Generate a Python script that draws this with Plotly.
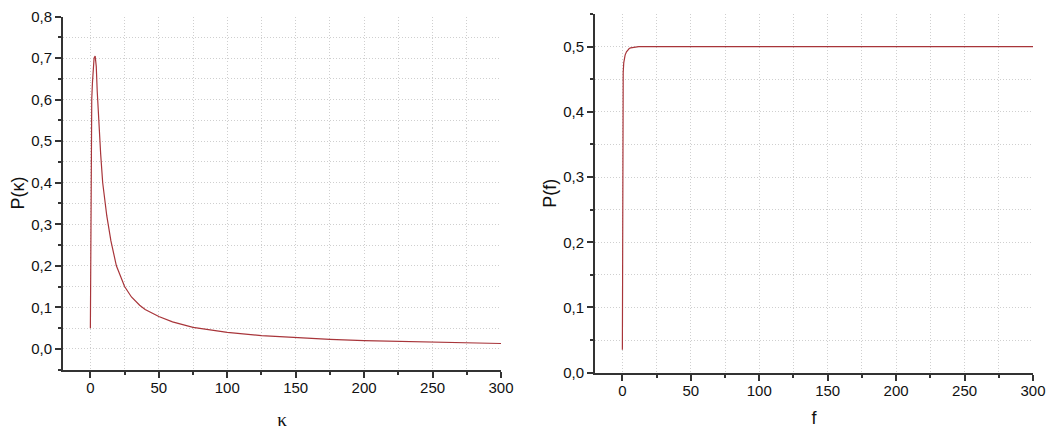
import plotly.graph_objects as go

# Left panel: P(kappa)
kappa = [0, 0.3, 0.6, 1, 1.5, 2, 2.7, 3.5, 4.3, 5, 6, 7.5, 9, 10.5, 12, 15, 19, 25, 30, 36, 40,
         50, 60, 75, 90, 100, 125, 150, 175, 200, 225, 250, 275, 300]
p_kappa = [0.05, 0.30, 0.55, 0.60, 0.64, 0.68, 0.70, 0.705, 0.68, 0.62, 0.55, 0.47, 0.40, 0.36,
           0.32, 0.26, 0.20, 0.15, 0.125, 0.105, 0.095, 0.078, 0.065, 0.052, 0.044, 0.040,
           0.032, 0.027, 0.023, 0.020, 0.018, 0.016, 0.0145, 0.013]

# Right panel: P(f)
f_vals = [0, 0.2, 0.4, 0.6, 1, 1.5, 2, 3, 4, 5, 6, 8, 10, 12, 50, 100, 150, 200, 250, 300]
p_f = [0.035, 0.25, 0.43, 0.46, 0.475, 0.482, 0.487, 0.492, 0.495, 0.497, 0.498, 0.499, 0.4995,
       0.5, 0.5, 0.5, 0.5, 0.5, 0.5, 0.5]

LINE = "#a8353a"
AXC = "#333333"
GRID = "#cfcfcf"
DOT = "1px,2px"
FONT = "Liberation Sans, Arial, sans-serif"

fig = go.Figure()
fig.add_trace(go.Scatter(x=kappa, y=p_kappa, mode="lines", line=dict(color=LINE, width=1.2),
                         xaxis="x", yaxis="y", showlegend=False))
fig.add_trace(go.Scatter(x=f_vals, y=p_f, mode="lines", line=dict(color=LINE, width=1.2),
                         xaxis="x2", yaxis="y2", showlegend=False))

# page has an 8px body margin, so the figure is drawn 8px in from the top-left corner
OFF = 8
W, H = 1060 - OFF, 430 - OFF


def px_x(a, b):
    return [(a - OFF) / W, (b - OFF) / W]


def px_y(top, bottom):
    return [1 - (bottom - OFF) / H, 1 - (top - OFF) / H]


def xax(domain, anchor, title, title_font, standoff):
    return dict(
        domain=domain, anchor=anchor, range=[-20, 300], dtick=50, tick0=0,
        automargin=False,
        showline=True, linecolor=AXC, linewidth=2, mirror=False,
        ticks="outside", ticklen=6, tickwidth=1.5, tickcolor=AXC,
        showgrid=True, gridcolor=GRID, griddash=DOT, gridwidth=1,
        zeroline=False,
        minor=dict(dtick=25, tick0=0, ticks="outside", ticklen=3, tickcolor=AXC,
                   showgrid=True, gridcolor=GRID, griddash=DOT, gridwidth=1),
        tickfont=dict(family=FONT, size=15, color="#111"),
        ticklabelstandoff=-3, ticklabeloverflow="allow",
        title=dict(text=title, font=title_font, standoff=standoff),
    )


def yax(domain, anchor, rng, title, standoff):
    return dict(
        domain=domain, anchor=anchor, range=rng, dtick=0.1, tick0=0, tickformat=".1f",
        automargin=False,
        showline=True, linecolor=AXC, linewidth=2, mirror=False,
        ticks="outside", ticklen=6, tickwidth=1.5, tickcolor=AXC,
        showgrid=True, gridcolor=GRID, griddash=DOT, gridwidth=1,
        zeroline=False,
        minor=dict(dtick=0.05, tick0=0, ticks="outside", ticklen=3, tickcolor=AXC,
                   showgrid=True, gridcolor=GRID, griddash=DOT, gridwidth=1),
        tickfont=dict(family=FONT, size=15, color="#111"),
        ticklabeloverflow="allow",
        title=dict(text=title, font=dict(family=FONT, size=18, color="#111"), standoff=standoff),
    )


fig.update_layout(
    width=W, height=H,
    margin=dict(l=0, r=0, t=0, b=0),
    paper_bgcolor="white", plot_bgcolor="white",
    separators=",.",
    xaxis=xax(px_x(63, 501), "y", "κ",
              dict(family="Liberation Serif, Times New Roman, serif", size=19, color="#111"), 20),
    yaxis=yax(px_y(16.5, 369.7), "x", [-0.05, 0.8], "P(κ)", 8),
    xaxis2=xax(px_x(595, 1033), "y2", "f", dict(family=FONT, size=18, color="#111"), 14),
    yaxis2=yax(px_y(14, 372.7), "x2", [0, 0.55], "P(f)", 2),
)

fig.write_html("out.html")
